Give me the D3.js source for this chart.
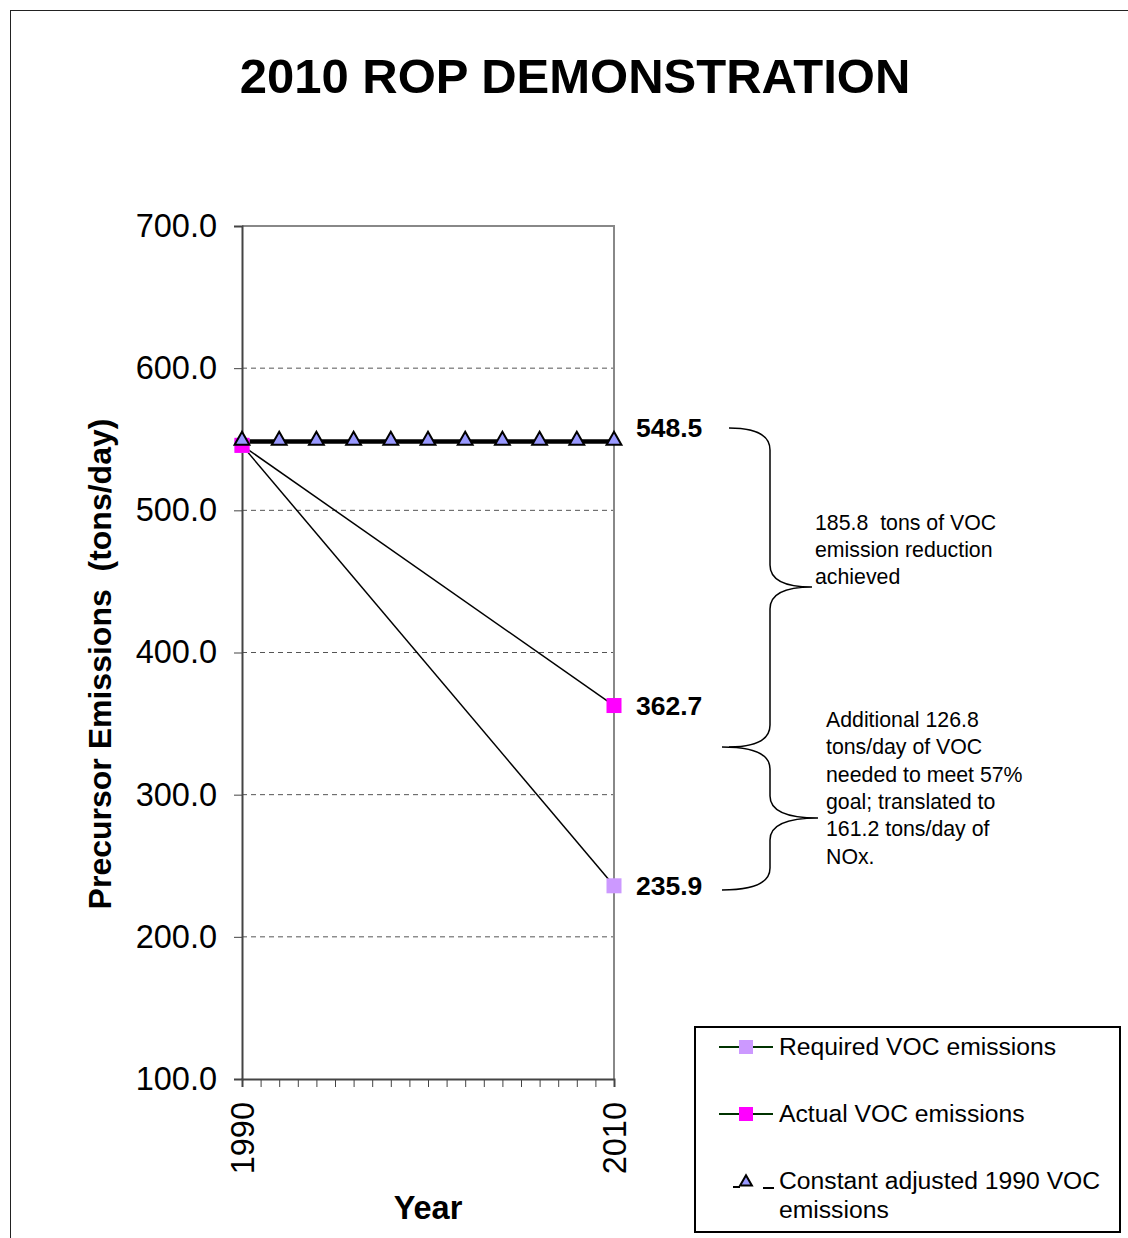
<!DOCTYPE html>
<html>
<head>
<meta charset="utf-8">
<script src="https://cdn.jsdelivr.net/npm/d3@7"></script>
<style>
  body { margin: 0; background: #fff; }
  text { font-family: "Liberation Sans", Arial, sans-serif; white-space: pre; }
</style>
</head>
<body>
<div id="container"></div>
<script>
// data
const constYears = [1990, 1992, 1994, 1996, 1998, 2000, 2002, 2004, 2006, 2008, 2010];
const constValues = [548.5, 548.5, 548.5, 548.5, 548.5, 548.5, 548.5, 548.5, 548.5, 548.5, 548.5];
const lineYears = [1990, 2010];
const requiredValues = [545.7, 235.9];
const actualValues = [545.7, 362.7];
const yTicks = [100, 200, 300, 400, 500, 600, 700];
const xLabels = [1990, 2010];
const seriesNames = ["Required VOC emissions", "Actual VOC emissions", "Constant adjusted 1990 VOC emissions"];
const endLabels = ["548.5", "362.7", "235.9"];
const note1 = ["185.8  tons of VOC", "emission reduction", "achieved"];
const note2 = ["Additional 126.8", "tons/day of VOC", "needed to meet 57%", "goal; translated to", "161.2 tons/day of", "NOx."];

const W = 1128, H = 1238;
const svg = d3.select("#container").append("svg")
    .attr("width", W)
    .attr("height", H);

// outer frame
svg.append("rect")
    .attr("x", 10.5).attr("y", 10.5)
    .attr("width", W + 10).attr("height", H + 10)
    .attr("fill", "none").attr("stroke", "#222").attr("stroke-width", 1);

svg.append("text")
    .attr("x", 575).attr("y", 93)
    .attr("text-anchor", "middle")
    .attr("font-size", 49).attr("font-weight", "bold")
    .text("2010 ROP DEMONSTRATION");

const x = d3.scaleLinear().domain([1990, 2010]).range([242, 614]);
const y = d3.scaleLinear().domain([100, 700]).range([1079, 226]);

// grid
svg.append("g").selectAll("line")
    .data(yTicks.filter(d => d > 100 && d < 700))
    .enter().append("line")
    .attr("x1", x(1990)).attr("x2", x(2010))
    .attr("y1", d => y(d)).attr("y2", d => y(d))
    .attr("stroke", "#555").attr("stroke-dasharray", "5,4").attr("stroke-width", 1);

// plot frame (top + right)
svg.append("path")
    .attr("d", `M${x(1990)},${y(700)}H${x(2010)}V${y(100)}`)
    .attr("fill", "none").attr("stroke", "#888").attr("stroke-width", 2);

// y axis
const yAxis = svg.append("g")
    .attr("transform", `translate(${x(1990)},0)`)
    .call(d3.axisLeft(y).tickValues(yTicks).tickFormat(d3.format(".1f")).tickSize(8).tickPadding(17));
yAxis.select(".domain").attr("stroke", "#444").attr("stroke-width", 2);
yAxis.selectAll(".tick line").attr("stroke", "#444");
yAxis.selectAll("text").attr("font-size", 32.5).attr("fill", "#000")
    .attr("font-family", "Liberation Sans, Arial, sans-serif");

// x axis
const xAxis = svg.append("g")
    .attr("transform", `translate(0,${y(100)})`)
    .call(d3.axisBottom(x).ticks(20).tickSize(8).tickFormat(d => xLabels.includes(d) ? d : ""));
xAxis.select(".domain").attr("stroke", "#444").attr("stroke-width", 2);
xAxis.selectAll(".tick line").attr("stroke", "#444");
xAxis.selectAll("text")
    .attr("font-size", 32.5).attr("fill", "#000")
    .attr("font-family", "Liberation Sans, Arial, sans-serif")
    .attr("text-anchor", "end")
    .attr("dy", "0.35em")
    .attr("transform", "translate(0,23) rotate(-90)")
    .attr("y", 0).attr("x", 0);

// axis titles
svg.append("text")
    .attr("transform", "translate(111,664) rotate(-90)")
    .attr("text-anchor", "middle")
    .attr("font-size", 32).attr("font-weight", "bold")
    .text("Precursor Emissions  (tons/day)");
svg.append("text")
    .attr("x", 428).attr("y", 1219)
    .attr("text-anchor", "middle")
    .attr("font-size", 32.5).attr("font-weight", "bold")
    .text("Year");

const line = d3.line().x(d => x(d[0])).y(d => y(d[1]));

// required & actual lines
[requiredValues, actualValues].forEach(vals => {
    svg.append("path")
        .attr("d", line(d3.zip(lineYears, vals)))
        .attr("fill", "none").attr("stroke", "#000").attr("stroke-width", 1.5);
});

// constant line
const constData = d3.zip(constYears, constValues);
svg.append("path")
    .attr("d", line(constData))
    .attr("fill", "none").attr("stroke", "#000").attr("stroke-width", 4.5);

// markers
const sq = 15;
svg.append("g").selectAll("rect")
    .data(d3.zip(lineYears, requiredValues))
    .enter().append("rect")
    .attr("x", d => x(d[0]) - sq / 2).attr("y", d => y(d[1]) - sq / 2)
    .attr("width", sq).attr("height", sq)
    .attr("fill", "#CC99FF");
svg.append("g").selectAll("rect")
    .data(d3.zip(lineYears, actualValues))
    .enter().append("rect")
    .attr("x", d => x(d[0]) - sq / 2).attr("y", d => y(d[1]) - sq / 2)
    .attr("width", sq).attr("height", sq)
    .attr("fill", "#FF00FF");

const tri = d3.symbol().type(d3.symbolTriangle).size(95);
svg.append("g").selectAll("path")
    .data(constData)
    .enter().append("path")
    .attr("d", tri)
    .attr("transform", d => `translate(${x(d[0])},${y(d[1]) - 1})`)
    .attr("fill", "#9999FF").attr("stroke", "#000").attr("stroke-width", 2);

// end labels
const endVals = [constValues[constValues.length - 1], actualValues[1], requiredValues[1]];
const endShift = [-4, 9, 9];
svg.append("g").selectAll("text")
    .data(endVals)
    .enter().append("text")
    .attr("x", 636).attr("y", (d, i) => y(d) + endShift[i])
    .attr("font-size", 26.5).attr("font-weight", "bold")
    .text((d, i) => endLabels[i]);

// braces
function brace(x0, xv, xt, y0, ym, y1) {
    const r = 22;
    return `M${x0},${y0}Q${xv},${y0} ${xv},${y0 + r}` +
        `L${xv},${ym - r}Q${xv},${ym} ${xt},${ym}` +
        `Q${xv},${ym} ${xv},${ym + r}` +
        `L${xv},${y1 - r}Q${xv},${y1} ${x0},${y1}`;
}
svg.append("path")
    .attr("d", brace(729, 770, 812, 428, 587, 747))
    .attr("fill", "none").attr("stroke", "#000").attr("stroke-width", 1.5);
svg.append("path")
    .attr("d", brace(722, 770, 818, 747, 818, 890))
    .attr("fill", "none").attr("stroke", "#000").attr("stroke-width", 1.5);

svg.append("g").selectAll("text")
    .data(note1)
    .enter().append("text")
    .attr("x", 815).attr("y", (d, i) => 530 + i * 27)
    .attr("font-size", 21.3)
    .text(d => d);
svg.append("g").selectAll("text")
    .data(note2)
    .enter().append("text")
    .attr("x", 826).attr("y", (d, i) => 727 + i * 27.3)
    .attr("font-size", 21.3)
    .text(d => d);

// legend
const lg = svg.append("g");
lg.append("rect")
    .attr("x", 695).attr("y", 1027)
    .attr("width", 425).attr("height", 205)
    .attr("fill", "#fff").attr("stroke", "#000").attr("stroke-width", 2);
const legRows = [1047, 1114];
const legFills = ["#CC99FF", "#FF00FF"];
legRows.forEach((ly, i) => {
    lg.append("line")
        .attr("x1", 719).attr("x2", 773).attr("y1", ly).attr("y2", ly)
        .attr("stroke", "#003300").attr("stroke-width", 2);
    lg.append("rect")
        .attr("x", 746 - 7).attr("y", ly - 7).attr("width", 14).attr("height", 14)
        .attr("fill", legFills[i]);
    lg.append("text")
        .attr("x", 779).attr("y", ly + 8)
        .attr("font-size", 24.7)
        .text(seriesNames[i]);
});
lg.append("line")
    .attr("x1", 733).attr("x2", 740).attr("y1", 1187).attr("y2", 1187)
    .attr("stroke", "#000").attr("stroke-width", 2);
lg.append("line")
    .attr("x1", 763).attr("x2", 774).attr("y1", 1188).attr("y2", 1188)
    .attr("stroke", "#000").attr("stroke-width", 2);
lg.append("path")
    .attr("d", d3.symbol().type(d3.symbolTriangle).size(60))
    .attr("transform", "translate(746,1182)")
    .attr("fill", "#9999FF").attr("stroke", "#000").attr("stroke-width", 2);
lg.append("text")
    .attr("x", 779).attr("y", 1189)
    .attr("font-size", 24.7)
    .selectAll("tspan")
    .data(["Constant adjusted 1990 VOC", "emissions"])
    .enter().append("tspan")
    .attr("x", 779).attr("dy", (d, i) => i === 0 ? 0 : 29)
    .text(d => d);
</script>
</body>
</html>
